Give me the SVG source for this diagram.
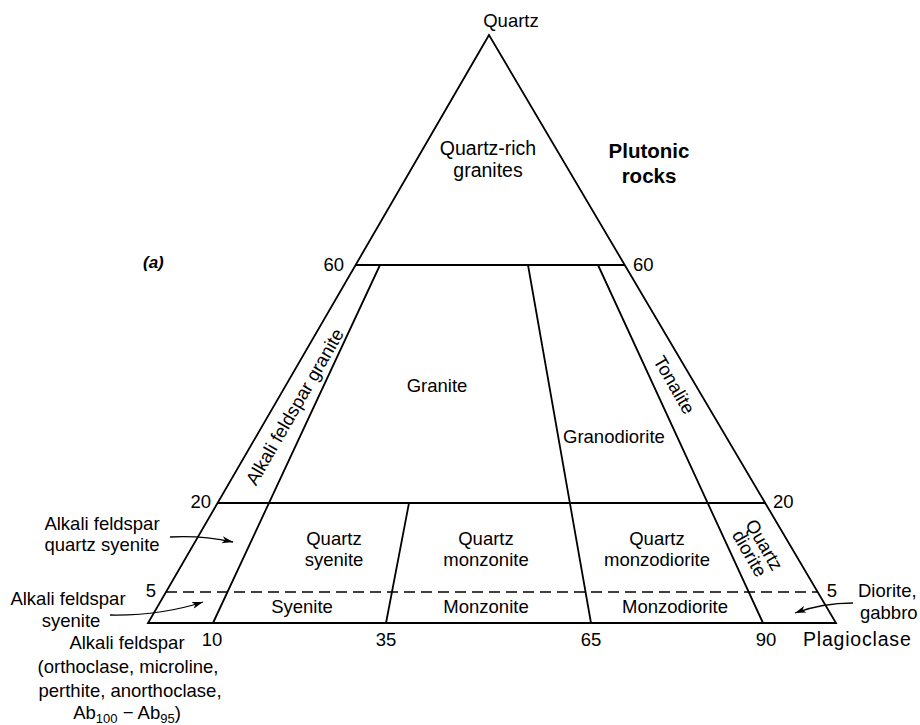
<svg xmlns="http://www.w3.org/2000/svg" width="920" height="725" viewBox="0 0 920 725">
<defs>
<style>
.ln{stroke:#000;stroke-width:1.8;fill:none;stroke-linecap:round}
.ds{stroke:#000;stroke-width:1.6;fill:none;stroke-dasharray:11 6}
.ar{stroke:#000;stroke-width:1.3;fill:none;marker-end:url(#ah)}
text{font-family:"Liberation Sans",Arial,sans-serif;font-size:18.5px;fill:#000}
.m{text-anchor:middle}
.e{text-anchor:end}
.b{font-weight:bold;font-size:20.5px}
.it{font-style:italic;font-weight:bold;font-size:17px}
.big{font-size:19.5px}
.sub{font-size:13px}
</style>
<marker id="ah" markerWidth="12" markerHeight="8" refX="11" refY="4" orient="auto" markerUnits="userSpaceOnUse">
<path d="M0,0.5 L11,4 L0,7.5 L3,4 z" fill="#000"/>
</marker>
</defs>
<g id="connectors">
<path class="ln" d="M489,35 L148,623 L836,623 Z"/>
<line class="ln" x1="356" y1="265" x2="624" y2="265"/>
<line class="ln" x1="218" y1="503" x2="765" y2="503"/>
<line class="ds" x1="166" y1="592" x2="818" y2="592"/>
<line class="ln" x1="380" y1="265" x2="213" y2="623"/>
<line class="ln" x1="409" y1="503" x2="386" y2="623"/>
<line class="ln" x1="528" y1="265" x2="591" y2="623"/>
<line class="ln" x1="598" y1="265" x2="763" y2="623"/>
<path class="ar" d="M170,537 Q200,535 233,542"/>
<path class="ar" d="M110,615 Q160,616 203,602"/>
<path class="ar" d="M853,603 Q822,603 795,613"/>
</g>
<g id="apex"><text class="m" x="511" y="27">Quartz</text></g>
<g id="title"><text class="m b" x="649" y="158">Plutonic</text><text class="m b" x="649" y="183">rocks</text></g>
<g id="label-a"><text class="it" x="143" y="268">(a)</text></g>
<g id="ticks">
<text class="e" x="344" y="271">60</text>
<text x="633" y="271">60</text>
<text class="e" x="211" y="508">20</text>
<text x="773" y="508">20</text>
<text class="m" x="151" y="597">5</text>
<text class="m" x="832" y="597">5</text>
<text class="m" x="212" y="646">10</text>
<text class="m" x="386" y="646">35</text>
<text class="m" x="591" y="646">65</text>
<text class="m" x="766" y="646">90</text>
</g>
<g id="quartz-rich-granites"><text class="m big" x="488" y="155">Quartz-rich</text><text class="m big" x="488" y="177">granites</text></g>
<g id="alkali-feldspar-granite"><text class="m" transform="translate(295,407) rotate(-60)" y="6">Alkali feldspar granite</text></g>
<g id="granite"><text class="m" x="437" y="392">Granite</text></g>
<g id="granodiorite"><text x="563" y="443">Granodiorite</text></g>
<g id="tonalite"><text class="m" transform="translate(674,385) rotate(60)" y="6">Tonalite</text></g>
<g id="quartz-syenite"><text class="m" x="334" y="545">Quartz</text><text class="m" x="334" y="566">syenite</text></g>
<g id="quartz-monzonite"><text class="m" x="486" y="545">Quartz</text><text class="m" x="486" y="566">monzonite</text></g>
<g id="quartz-monzodiorite"><text class="m" x="657" y="545">Quartz</text><text class="m" x="657" y="566">monzodiorite</text></g>
<g id="quartz-diorite"><g transform="translate(757,549) rotate(60)"><text class="m" y="-2">Quartz</text><text class="m" y="15">diorite</text></g></g>
<g id="syenite"><text class="m" x="302" y="613">Syenite</text></g>
<g id="monzonite"><text class="m" x="486" y="613">Monzonite</text></g>
<g id="monzodiorite"><text class="m" x="675" y="613">Monzodiorite</text></g>
<g id="diorite-gabbro"><text x="858" y="597">Diorite,</text><text x="860" y="619">gabbro</text></g>
<g id="plagioclase"><text class="big" x="803" y="646" letter-spacing="0.8">Plagioclase</text></g>
<g id="alkali-feldspar-quartz-syenite"><text class="m" x="102" y="530">Alkali feldspar</text><text class="m" x="102" y="551">quartz syenite</text></g>
<g id="alkali-feldspar-syenite"><text class="m" x="68" y="605">Alkali feldspar</text><text class="m" x="71" y="627">syenite</text></g>
<g id="alkali-feldspar">
<text class="m" x="127" y="649">Alkali feldspar</text>
<text class="m" x="128" y="673">(orthoclase, microline,</text>
<text class="m" x="130" y="697">perthite, anorthoclase,</text>
<text class="m" x="127" y="719">Ab<tspan class="sub" dy="4">100</tspan><tspan dy="-4"> − Ab</tspan><tspan class="sub" dy="4">95</tspan><tspan dy="-4">)</tspan></text>
</g>
</svg>
